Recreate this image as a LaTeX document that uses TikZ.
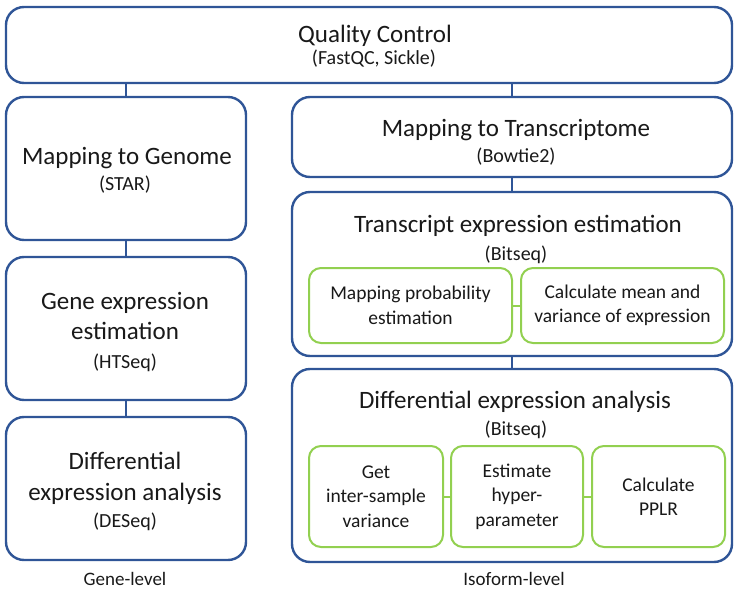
\documentclass[tikz,border=0pt]{standalone}
\usepackage{fontspec}
\setmainfont{Carlito}
\definecolor{qblue}{RGB}{47,85,151}
\definecolor{qgreen}{RGB}{146,208,80}
\definecolor{qtext}{RGB}{25,25,25}
\newcommand{\fbig}{\fontsize{25}{30}\selectfont}
\newcommand{\fsml}{\fontsize{20}{24}\selectfont}
\newcommand{\fmid}{\fontsize{19.5}{24.5}\selectfont}
\newcommand{\fcap}{\fontsize{19}{23}\selectfont}
% one line of text, placed by its baseline
\newcommand{\tline}[5]{\node[title, font=#4, anchor=base] (#1) at (#2,#3) {#5};}
\begin{document}
\begin{tikzpicture}[x=1pt,y=-1pt,
  bluebox/.style={draw=qblue, line width=2.4pt, rounded corners=18pt, fill=white,
    inner sep=0pt},
  greenbox/.style={draw=qgreen, line width=2pt, rounded corners=12pt, fill=white,
    inner sep=0pt, align=center, text=qtext, font=\fmid},
  title/.style={text=qtext, inner sep=0pt},
  bluelink/.style={draw=qblue, line width=2.4pt},
  greenlink/.style={draw=qgreen, line width=2pt}]
\useasboundingbox (0,0) rectangle (734,591);

% top stage
\node[bluebox, minimum width=726pt, minimum height=76pt] (qc) at (369,45) {};
\tline{qcA}{375}{43}{\fbig}{Quality Control}
\tline{qcB}{374}{65}{\fsml}{(FastQC, Sickle)}

% gene-level column
\node[bluebox, minimum width=240pt, minimum height=143pt] (gen) at (126,168.5) {};
\tline{genA}{127}{165}{\fbig}{Mapping to Genome}
\tline{genB}{125}{191}{\fsml}{(STAR)}
\node[bluebox, minimum width=240pt, minimum height=143pt] (gexp) at (126,328.5) {};
\tline{gexpA}{125}{309}{\fbig}{Gene expression}
\tline{gexpB}{125}{339}{\fbig}{estimation}
\tline{gexpC}{125}{368}{\fsml}{(HTSeq)}
\node[bluebox, minimum width=240pt, minimum height=143pt] (dgene) at (126,488.5) {};
\tline{dgA}{125}{469}{\fbig}{Differential}
\tline{dgB}{125}{500}{\fbig}{expression analysis}
\tline{dgC}{125}{527}{\fsml}{(DESeq)}

% isoform-level column
\node[bluebox, minimum width=440pt, minimum height=80pt] (mtx) at (512,137) {};
\tline{mtxA}{516}{137}{\fbig}{Mapping to Transcriptome}
\tline{mtxB}{516}{163}{\fsml}{(Bowtie2)}
\node[bluebox, minimum width=440pt, minimum height=164pt] (tx) at (512,274) {};
\tline{txA}{518}{232}{\fbig}{Transcript expression estimation}
\tline{txB}{516}{260}{\fsml}{(Bitseq)}
\node[greenbox, minimum width=203pt, minimum height=75pt] (g1) at (410.5,305.5)
  {Mapping probability\\estimation};
\node[greenbox, minimum width=203pt, minimum height=75pt] (g2) at (622.5,305.5)
  {Calculate mean and\\variance of expression};

\node[bluebox, minimum width=440pt, minimum height=193pt] (dx) at (512,465.5) {};
\tline{dxA}{515}{408}{\fbig}{Differential expression analysis}
\tline{dxB}{516}{435}{\fsml}{(Bitseq)}
\node[greenbox, minimum width=134pt, minimum height=101pt] (h1) at (376,496.5)
  {Get\\inter-sample\\variance};
\node[greenbox, minimum width=132pt, minimum height=101pt] (h2) at (517,496.5)
  {Estimate\\hyper-\\parameter};
\node[greenbox, minimum width=133pt, minimum height=101pt] (h3) at (658.5,496.5)
  {Calculate\\PPLR};

% connectors
\draw[bluelink] (gen.north |- qc.south) -- (gen.north);
\draw[bluelink] (gen) -- (gexp);
\draw[bluelink] (gexp) -- (dgene);
\draw[bluelink] (mtx.north |- qc.south) -- (mtx.north);
\draw[bluelink] (mtx) -- (tx);
\draw[bluelink] (tx) -- (dx);
\draw[greenlink] (g1) -- (g2);
\draw[greenlink] (h1) -- (h2);
\draw[greenlink] (h2) -- (h3);

% column captions
\tline{glev}{125}{585}{\fcap}{Gene-level}
\tline{ilev}{514}{585}{\fcap}{Isoform-level}
\end{tikzpicture}
\end{document}
